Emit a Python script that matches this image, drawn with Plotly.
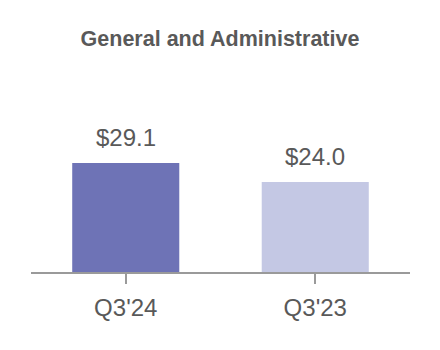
import plotly.graph_objects as go

categories = ["Q3'24", "Q3'23"]
values = [29.1, 24.0]
value_labels = ["$29.1", "$24.0"]
colors = ["#6e73b6", "#c4c8e4"]

FONT = "Arial, 'Liberation Sans', sans-serif"
TXT = "#595959"

fig = go.Figure()
fig.add_trace(go.Bar(
    x=categories, y=values, marker=dict(color=colors, line=dict(width=0)),
    width=0.565, hoverinfo="skip",
))
for c, v, t in zip(categories, values, value_labels):
    fig.add_annotation(x=c, y=v, text=t, showarrow=False, yanchor="bottom",
                       yshift=10, font=dict(family=FONT, size=24, color=TXT))

fig.update_layout(
    width=440, height=350,
    margin=dict(l=31, r=30, t=100, b=78),
    paper_bgcolor="white", plot_bgcolor="white",
    showlegend=False,
    title=dict(text="<b>General and Administrative</b>", x=0.5, xanchor="center",
               y=1 - 38 / 350, yanchor="middle",
               font=dict(family=FONT, size=21.5, color=TXT)),
    xaxis=dict(showline=True, linecolor="#9a9a9a", linewidth=2,
               ticks="outside", ticklen=10, tickwidth=2, tickcolor="#9a9a9a",
               ticklabelstandoff=3,
               tickfont=dict(family=FONT, size=24, color=TXT),
               showgrid=False, zeroline=False),
    yaxis=dict(range=[0, 45.9], visible=False, showgrid=False, zeroline=False),
)

fig.write_html("out.html")
